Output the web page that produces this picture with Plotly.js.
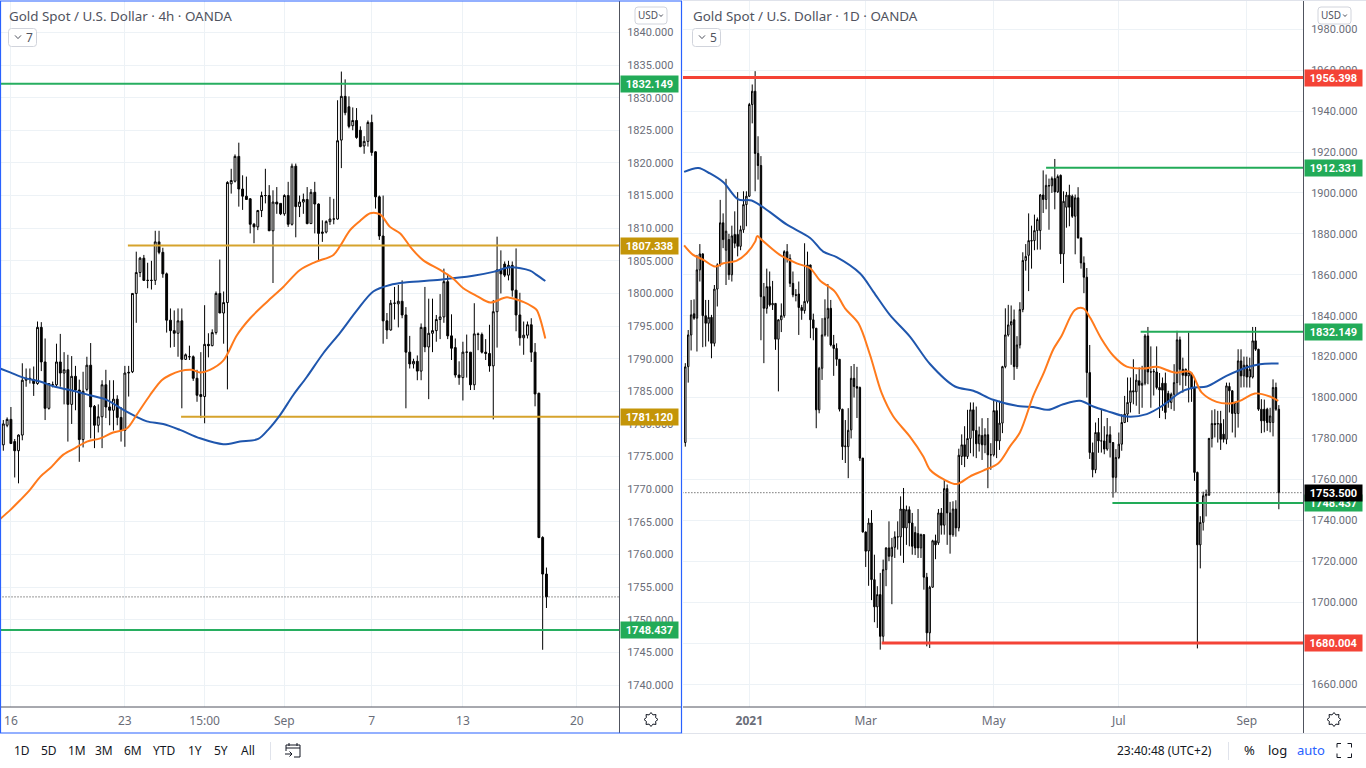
<!DOCTYPE html>
<html><head><meta charset="utf-8">
<script src="https://cdn.plot.ly/plotly-3.0.1.min.js"></script>
<style>html,body{margin:0;padding:0;background:#fff;overflow:hidden}#c{width:1366px;height:768px}</style>
</head><body><div id="c"></div>
<script>
// ---------- 4h chart values ----------
const h4Open=[1776.8,1779.8,1780.7,1777.3,1775.9,1778.3,1786.7,1787,1786.8,1786.2,
1794.8,1789.5,1782.4,1786,1786,1789.5,1787.8,1788.3,1783,1787.3,
1785.2,1777.6,1785.3,1789,1782.7,1779.8,1781.1,1786,1782.6,1782.1,
1783.8,1781,1779,1787.8,1788,1800,1803.2,1805.4,1802,1802,
1802,1807.9,1806.3,1803,1795.9,1794.3,1793.9,1795.8,1789.9,1790.3,
1790.3,1787,1784.5,1784.2,1792.2,1792,1794,1800,1797,1798.6,
1816.8,1817.2,1821,1816,1814.9,1814.5,1810.6,1810.2,1812.7,1815,
1815,1809.6,1814,1813.8,1812.2,1815,1810.6,1819.5,1813.3,1814,
1814.4,1810.7,1815.5,1813.7,1809.2,1809.4,1811,1811.4,1811.4,1823.5,
1830.2,1828.6,1825.7,1826.5,1825,1822.6,1823.3,1826.2,1821.7,1814.8,
1808.8,1795.8,1794.4,1798.5,1798.4,1798.8,1796.7,1791,1789.2,1789.6,
1788.1,1794.8,1791.8,1793.9,1794.3,1796,1796.4,1801.8,1793.5,1791.7,
1787.5,1787.1,1791,1791,1786,1793.8,1793.7,1791,1790.8,1788.9,
1797.2,1803.6,1804.5,1802.8,1804.3,1800.5,1796.7,1793.2,1793.6,1795.2,
1791,1784.7,1762.6,1757];
const h4High=[1780.6,1781,1782.6,1777.7,1778.4,1789.3,1788.5,1788.5,1788.8,1795.7,
1795.6,1793.1,1786.2,1786.5,1792.3,1793.8,1791,1790.6,1790.4,1788.9,
1786.8,1788,1790.3,1792.4,1782.9,1783,1786.7,1788.3,1786.7,1786.7,
1784.4,1782.6,1788.9,1788.9,1800,1806.4,1805.6,1805.9,1804.7,1805,
1809.6,1809.6,1807,1803.2,1797.7,1797.4,1797.7,1797.7,1790.8,1792,
1790.5,1788.3,1791,1798.2,1793.9,1794.5,1800.3,1805.2,1800.3,1817.2,
1819.1,1821.3,1823.1,1818.1,1817.9,1814.6,1810.8,1812.8,1815.6,1819.1,
1816.6,1815.8,1816.3,1813.8,1815.2,1817.1,1819.9,1819.9,1815,1815.3,
1816.3,1816,1817.1,1813.8,1811.2,1811.2,1814.8,1814.5,1829.6,1834,
1832.8,1830.2,1828.5,1828.4,1825.6,1824.1,1826.5,1827.4,1821.8,1815,
1815,1797,1799,1801,1801.3,1802,1797.9,1793.5,1790,1790.5,
1795.4,1801,1799.2,1799.2,1796.7,1799.9,1803.8,1803,1796.8,1793.1,
1789.6,1792.6,1793.7,1791,1798.5,1794,1794,1793,1795.2,1799,
1808.7,1806.6,1804.9,1805,1804.9,1806.9,1800.1,1795.7,1795.7,1796.2,
1792.4,1784.8,1762.8,1758];
const h4Low=[1775.9,1779.5,1777,1771.8,1770.9,1777.5,1785.7,1786.2,1784.3,1786,
1788.1,1780.6,1782.2,1785.6,1785.7,1785.7,1783,1777.3,1780,1782.1,
1774.2,1776.4,1785,1777.8,1776.3,1778.7,1776.3,1780.9,1779.8,1779,
1779.8,1777.3,1776.5,1784.2,1787.8,1795.5,1802.5,1802,1800.8,1800.6,
1801.3,1806,1802.4,1794,1791.7,1791.8,1790.3,1782.4,1789.8,1789.8,
1786.6,1783.4,1780.9,1780.1,1790.2,1791.9,1793.7,1797,1792.3,1785.3,
1815.3,1817,1813.3,1812.8,1814.4,1809.2,1807.7,1809.7,1811.7,1813.8,
1809.6,1801.6,1812.2,1812,1811.9,1810.2,1810.4,1808.6,1811.7,1812.2,
1810.6,1810.7,1809.2,1805,1807.9,1809.2,1810.5,1810.6,1811.3,1819.2,
1827.3,1825.3,1825,1823.7,1822.4,1821.4,1822.5,1821.1,1813,1808.2,
1792.3,1793,1794.3,1796,1794.8,1796.2,1782.4,1788.5,1788.5,1786.7,
1786.7,1791,1783.8,1791,1792.6,1793,1795.5,1793,1789.8,1787.1,
1786,1783.6,1787.1,1785.2,1785.2,1791.3,1790.8,1789.8,1788,1780.7,
1791.7,1800,1802.5,1802,1799.5,1794.2,1792,1790.6,1793.1,1789.5,
1782.7,1762.5,1745.4,1751.8];
const h4Close=[1780,1780.7,1777,1775.9,1778.3,1786.7,1787,1786.9,1786.2,1794.8,
1789.5,1782.4,1786.2,1786,1789.5,1787.8,1788.3,1783,1787.3,1785.2,
1777.6,1785,1789,1782.6,1779.8,1781.1,1786,1782.6,1782.1,1783.8,
1781,1779,1787.8,1787.9,1800,1803.2,1805.4,1802,1802,1802,
1807.9,1806.3,1803,1795.9,1794.3,1793.9,1795.8,1789.9,1790.6,1790.3,
1787,1784.4,1784.2,1792.2,1792,1794,1800,1797,1798.6,1817,
1817.3,1821,1816,1814.9,1814.4,1810.6,1810.2,1812.7,1815,1815,
1809.6,1814,1813.7,1812.2,1815,1810.6,1819.5,1813.3,1814,1814.4,
1810.7,1815.5,1813.7,1809.2,1809.4,1811,1811.4,1811.4,1823.4,1830.2,
1827.7,1825.6,1826.5,1823.9,1822.5,1823.3,1826.2,1821.6,1814.8,1808.8,
1795.8,1794.4,1798.5,1798.5,1798.8,1796.7,1791,1789.2,1789.6,1788.1,
1794.8,1791.8,1793.9,1794.3,1796,1796.4,1801.8,1793.5,1791.6,1787.5,
1787.1,1791,1791,1786,1793.8,1793.7,1791,1790.8,1788.9,1797.2,
1803.6,1803,1802.8,1804.3,1800.5,1796.7,1793.2,1793.6,1795.2,1791,
1784.6,1762.6,1757,1753.5];
const h4OrangeAt=[-0.9,1.8,4.4,7,9.7,12.3,15.8,18.9,22,25.5,28.9,32.5,35.1,38.6,41.7,43.9,46.5,49.6,51.8,54.4,57.9,61.5,65,69.4,73.7,78.1,82.1,86.9,88.7,91.3,93.9,96.6,99.2,101.8,104.5,107.5,110.5,115,118.4,121.1,124.7,128.2,132.6,136.9,139.5,140.5,142.7];
const h4Orange=[1765.4,1766.8,1768.3,1769.9,1771.9,1773.2,1775.3,1776.3,1777.3,1777.8,1778.7,1779.3,1781.4,1784.4,1786.7,1787.5,1788.1,1788.3,1787.9,1788.3,1789.7,1793.6,1796.2,1798.7,1801,1803.6,1804.8,1805.9,1807.3,1809.7,1811.1,1812.3,1812.1,1810.2,1809.2,1806.9,1805.1,1803.6,1802.3,1800.8,1799.6,1798.6,1799.4,1798.7,1797.9,1797.4,1793.1];
const h4BlueAt=[-0.9,1.8,5.3,9.7,13.6,17.6,22.8,27.2,31.5,35.1,37.8,42.1,46.5,51.8,57.9,62.3,67.1,69.7,72.9,76.3,79.9,84.2,88.7,93.1,97.4,101.8,106.2,115,123.7,129,133.4,138.7,140.5,142.7];
const h4Blue=[1788.5,1787.9,1787.1,1786.5,1785.7,1785.2,1784.4,1783.7,1782.2,1781.1,1780.4,1780,1779.1,1777.8,1776.9,1777.3,1777.7,1779.1,1781.4,1784.4,1787.2,1790.8,1794,1797.4,1800.3,1801.3,1801.7,1802.1,1802.7,1803.3,1804,1803.5,1802.8,1801.9];
const h4TickAt=[2,32,53,74,97,121,151];
const h4TickText=['16','23','15:00','Sep','7','13','20'];

// ---------- daily chart values ----------
const d1Open=[1778,1815.1,1830.6,1840.9,1838.8,1862.4,1870.2,1840,1836.3,1839.2,
1826.5,1853,1864.8,1885.4,1872,1877.2,1860,1879.7,1879.7,1873.9,
1882,1894.3,1898.4,1943.2,1949.7,1919.3,1913.4,1849.3,1843.6,1854.2,
1845.3,1846,1828.5,1838,1840,1871.3,1868,1855.8,1850.2,1850.6,
1844,1842.5,1847,1864.8,1838,1833.9,1794,1814.3,1830.6,1838.8,
1843.6,1825.7,1824,1818.7,1794.3,1776,1776,1784.2,1809.4,1805.4,
1804.9,1770.4,1734.3,1725,1738.7,1711,1697.7,1703.7,1683.3,1715.9,
1726.5,1722.4,1726.8,1731.9,1731.9,1745.5,1736.3,1745.2,1738.7,1734,
1733.5,1726.5,1733,1712.2,1685,1707.3,1730,1729,1743.6,1737.6,
1755.5,1743.6,1733,1745.5,1736.3,1771.2,1776.9,1771.2,1780,1794,
1783.9,1777.4,1781.4,1776.9,1781.8,1772,1772,1793.6,1778.8,1787.5,
1815.1,1830.6,1835.5,1838,1815.1,1825.7,1843,1867,1869.5,1876.7,
1876.7,1881.6,1881.6,1899,1896.8,1903.5,1903.5,1907,1900.5,1908.6,
1870.2,1893,1898.9,1898.4,1888.6,1897.6,1878,1865.8,1858.8,1812.2,
1773.1,1764.7,1782.9,1778.8,1778.8,1774.8,1781.8,1778,1761,1770.7,
1777.2,1787.8,1791.9,1797.6,1803.3,1802.8,1808.2,1806,1807,1830.1,
1812.5,1812.5,1812.5,1804.9,1807,1807,1802,1797.6,1801.6,1807.3,
1828.2,1813.8,1813.8,1810.6,1811.9,1804.9,1763.4,1728,1739,1752,
1752.3,1780,1787.3,1787,1787.3,1782.1,1779.6,1805.4,1803.3,1792.2,
1792.2,1817.9,1810.6,1815.8,1810,1810,1827.7,1823.6,1794.3,1794.3,
1794.3,1787.8,1787.8,1804.9,1794.3];
const d1High=[1816.8,1833,1847.7,1848,1869.7,1875,1870.5,1847.7,1847.7,1840.4,
1855,1865.6,1896.6,1890,1906.9,1880,1884,1891,1900.4,1884,
1900.8,1900.8,1944,1953,1959.5,1927.7,1918,1856,1863,1861.6,
1857,1846.2,1838.2,1846,1872,1875,1870,1861.6,1853,1856.7,
1845.3,1875.4,1871.3,1864.9,1841,1834,1815,1838.8,1848,1855.5,
1847.7,1830.6,1826.5,1818.7,1794.5,1789,1794.8,1815.4,1816.4,1815,
1805.4,1770.5,1734.5,1741,1745,1723.2,1707.8,1714.3,1720.8,1726.8,
1739.5,1731.4,1734.6,1739.5,1751.7,1755.8,1747.2,1746.8,1743.6,1737,
1745.5,1733.5,1733.2,1714.3,1708,1730.5,1733,1745.5,1746,1760,
1757.5,1749,1749.3,1749.8,1775,1782,1786,1794,1797.6,1797.6,
1795.6,1785.8,1789.9,1785,1790,1777.7,1798.9,1798,1798.4,1815.5,
1843.6,1845.3,1845,1843,1830,1846.6,1871,1875,1890,1884,
1889.4,1888,1899.5,1911,1909,1907,1908,1916.6,1909,1909,
1900.8,1900.5,1904,1899.2,1899.2,1902.8,1878.2,1869,1863.3,1825.7,
1778,1787.8,1790,1794.3,1786,1790,1786,1778.2,1774.8,1782.9,
1791.9,1800.8,1809.8,1809.8,1818.7,1811.4,1814.7,1815.5,1831,1834.5,
1825,1814,1825,1812,1809.8,1812.2,1803.3,1802.4,1816.3,1832.6,
1829.8,1819.5,1814.2,1831.8,1812.5,1809,1763.8,1742,1754,1755,
1780.3,1793.8,1794.3,1793.5,1793.5,1789.4,1807.3,1807.3,1803.5,1798,
1823.6,1823.6,1820,1820,1819.5,1834.5,1834.5,1823.8,1799.2,1799,
1795,1795,1808.9,1807.3,1796.3];
const d1Low=[1776,1807.3,1823,1838,1822.5,1856.7,1824.6,1824.9,1827.4,1819.2,
1825,1844.5,1864,1873,1855,1857.5,1856.7,1873,1869,1872,
1880.5,1883.7,1898,1934,1900.8,1906.5,1828,1816.8,1841,1844.5,
1842.8,1823.3,1803,1832,1839,1866,1854,1849,1847,1830.6,
1838,1841,1846,1829,1828,1785,1792.3,1808.6,1829.8,1829.8,
1825,1810.6,1815.5,1793.2,1769.5,1768,1760.6,1780,1800,1790,
1769,1734,1717.2,1708,1701,1690.2,1687.4,1676.8,1680.1,1707.8,
1720,1699,1721.6,1725.7,1722.7,1719.2,1728,1727.3,1723.2,1723,
1721.6,1721.6,1706.1,1678.4,1677.6,1707,1721,1728,1733,1733,
1728,1723.7,1732,1732,1734.6,1767,1766,1770,1772.8,1771.2,
1770.4,1773.6,1769.5,1772.8,1755.7,1764.7,1771.2,1770.4,1774.4,1782.6,
1814.3,1829.8,1816,1808.6,1814,1824,1841.7,1862,1852,1863,
1872,1872.3,1872.3,1890.2,1892,1882,1900,1892,1900,1865.3,
1856,1883,1883.7,1887.8,1870,1877.7,1863,1851,1800,1770,
1761,1763,1773,1773.1,1772.3,1774,1770.7,1751.1,1753.6,1769.9,
1774,1787.5,1788,1792.7,1796.7,1796,1791.9,1795,1806,1806.5,
1795,1801,1804,1790,1793.5,1789.4,1795,1794.3,1793.5,1801.5,
1806,1802.4,1805.7,1797.6,1797.9,1759.3,1677.4,1716.5,1735,1741.9,
1752,1775.6,1780.5,1778,1774.4,1778,1777.2,1792.7,1782.9,1780.5,
1785.3,1804.9,1805,1804.9,1804.9,1809.3,1822.8,1793.5,1782.6,1783,
1783.7,1783,1781,1793.5,1745.4];
const d1Close=[1815,1830.6,1840.4,1838.8,1862.4,1870.2,1840,1836.3,1839.2,1826.5,
1853,1864.8,1885.4,1877.2,1881.3,1860,1879,1875.4,1873.9,1882,
1894.3,1898.4,1943.2,1949.7,1919.3,1913.4,1849.3,1843.6,1854.2,1845.3,
1846,1828.5,1838,1840,1871.3,1868,1855.8,1850.2,1850,1844,
1842.5,1847,1864.8,1838,1833.9,1794,1814.3,1830.6,1838.8,1843.6,
1825.7,1824,1818.7,1794.3,1776,1776.3,1784,1809.4,1805.4,1804.6,
1770.4,1734.3,1724.9,1738.7,1711,1697.7,1703.7,1683.3,1715.9,1726.5,
1722.4,1726.8,1731.9,1731.9,1745.5,1736.3,1745.2,1738.7,1727.3,1726.5,
1726.5,1733,1712.2,1685,1707.3,1730,1728,1743.6,1737.6,1755.5,
1743.6,1733,1745.5,1736.3,1771.8,1776.9,1771.2,1780,1794,1783.9,
1777.4,1781.8,1776.9,1781.8,1772,1772,1793.6,1778.8,1787.5,1815.1,
1830.6,1835.5,1837.1,1815.1,1825.7,1843,1867,1869,1876.7,1876.5,
1881.6,1887,1899,1896.8,1903.7,1903.5,1907,1900.5,1908,1870.2,
1895.9,1898.9,1893,1888.6,1897.6,1878,1865.8,1858.8,1812.2,1773.1,
1764.7,1782.9,1778.8,1778.8,1774.8,1781.8,1778,1761,1770.7,1777.2,
1787.8,1791.9,1797.6,1803.3,1802.8,1808.5,1806,1807,1830.1,1812.5,
1812.5,1812.8,1804.9,1803.7,1803.6,1792.7,1797.6,1801.6,1807.3,1828.2,
1813.8,1810.9,1810.6,1812.2,1804.4,1763.4,1728,1739,1752,1752.7,
1780,1787.3,1786.8,1787.3,1779.6,1779.6,1805.7,1803.3,1792.2,1797.6,
1817.9,1810.6,1815.8,1810,1813.8,1827.7,1823.6,1794.3,1788.6,1788.6,
1787.8,1791,1804.9,1794.3,1753.5];
const d1BlueAt=[-0.4,4.5,8.5,13.1,18.2,22.8,29.1,34.8,42.9,47.4,52,60,64.6,70.3,77.2,84.1,92.7,99,105.8,115,119.6,124.7,129.9,135.6,140.2,144.8,151.7,158.6,164.3,170,174.6,179.2,186,192.9,197.5,203.9];
const d1Blue=[1910.3,1912.2,1909.5,1905.2,1896.8,1896.3,1890.6,1884.6,1878,1871.3,1868.6,1860.7,1851.8,1840.4,1829.8,1816.4,1805.4,1803.3,1798.9,1795.7,1795.4,1794,1796.7,1798.4,1795.6,1793.5,1790.7,1791.9,1796.3,1802.4,1804.9,1805.4,1810.6,1814.7,1816.3,1816.6];
const d1OrangeAt=[-0.4,2.7,6.2,10.2,13.1,17.7,21.1,24,24.7,26.3,32.5,38.3,42.9,46.3,51.4,54.9,59.5,63.5,67.5,71.5,77.2,81.8,84.1,88.7,93.3,97.8,102.4,107.6,111.6,115,119.6,123,126.5,129.3,133.9,136.8,139.1,143.1,147.1,151.7,157.4,162,168.3,173.5,177.5,182.6,187.2,190.6,195.8,200.9,203.8];
const d1Orange=[1874.4,1869.7,1867.3,1864,1865.6,1866.9,1870.5,1876.2,1878.9,1877,1869.7,1865.6,1863.2,1857.2,1851.8,1843.6,1836.3,1820.8,1802.1,1790.7,1780.9,1771.2,1764.7,1760.1,1757.7,1761.4,1764.3,1767.9,1776.1,1782.9,1800.8,1811.4,1823.6,1830.1,1842.8,1843.6,1839.1,1828.5,1820.4,1815.1,1814.2,1815,1812.2,1812.5,1802.4,1797.9,1797.1,1798.4,1802,1800.5,1798.4];
const d1TickAt=[22,62,106,149,193];
const d1TickText=['<b>2021</b>','Mar','May','Jul','Sep'];

// ---------- level lines: value, first candle position, colour, width ----------
const h4Levels=[[1832.149,-1,'#27ae60',2],[1807.338,32.8,'#d6a32c',2],[1781.120,46.8,'#d6a32c',2],[1748.437,-1,'#27ae60',2]];
const d1Levels=[[1956.398,-1,'#f44336',3],[1912.331,124,'#22ab58',2],[1832.149,156.5,'#22ab58',2],[1748.437,146.8,'#22ab58',2],[1680.004,67.5,'#f44336',3]];
const lastPrice=1753.5;
const h4XEnd=162.1, d1XEnd=212.3;

const GRID='#edf2f6', AXIS='#50535e', TXT='#6a6d78', ORANGE='#ff7a1c', BLUE='#1f56ad';
const range=n=>Array.from({length:n},(_,i)=>i);

function candle(o,h,l,c,xa,ya){return {type:'candlestick',x:range(o.length),open:o,high:h,low:l,close:c,xaxis:xa,yaxis:ya,
  increasing:{line:{color:'#000',width:1},fillcolor:'#fff'},decreasing:{line:{color:'#000',width:1},fillcolor:'#000'},
  whiskerwidth:0,hoverinfo:'skip',showlegend:false};}
function line(x,y,color,width,xa,ya,dash){return {type:'scatter',mode:'lines',x,y,xaxis:xa,yaxis:ya,line:{color,width,dash:dash||'solid'},hoverinfo:'skip',showlegend:false};}
function ma(x,y,color,xa,ya){return {type:'scatter',mode:'lines',x,y,xaxis:xa,yaxis:ya,line:{color,width:2,shape:'spline',smoothing:0.9},hoverinfo:'skip',showlegend:false};}

const traces=[candle(h4Open,h4High,h4Low,h4Close,'x','y'),candle(d1Open,d1High,d1Low,d1Close,'x2','y2')];
traces.push(line([-1,h4XEnd],[lastPrice,lastPrice],'#333',1,'x','y','1px,2px'));
traces.push(line([-1,d1XEnd],[lastPrice,lastPrice],'#333',1,'x2','y2','1px,2px'));
h4Levels.forEach(v=>traces.push(line([v[1],h4XEnd],[v[0],v[0]],v[2],v[3],'x','y')));
d1Levels.forEach(v=>traces.push(line([v[1],d1XEnd],[v[0],v[0]],v[2],v[3],'x2','y2')));
traces.push(ma(h4BlueAt,h4Blue,BLUE,'x','y'));
traces.push(ma(h4OrangeAt,h4Orange,ORANGE,'x','y'));
traces.push(ma(d1BlueAt,d1Blue,BLUE,'x2','y2'));
traces.push(ma(d1OrangeAt,d1Orange,ORANGE,'x2','y2'));

const W=1366,H=768, px=x=>x/W, py=y=>1-y/H;
const FONT='"Noto Sans", "Open Sans", sans-serif';
function label(x,y,text,o){o=o||{};return {xref:'paper',yref:'paper',x:px(x),y:py(y),text,showarrow:false,xanchor:o.a||'center',yanchor:'middle',
  font:{family:o.f||FONT,size:o.s||12,color:o.c||'#131722'},borderpad:0};}
function tag(xl,value,yref,text,bg){return {xref:'paper',yref,x:px(xl),y:value,text:'<b>'+text+'</b>',showarrow:false,xanchor:'left',yanchor:'middle',
  width:57,height:16,align:'center',bgcolor:bg,borderpad:0,font:{family:'Roboto, sans-serif',size:11,color:'#fff'}};}
const ann=[
 label(8,16,'Gold Spot / U.S. Dollar · 4h · OANDA',{a:'left',s:13.4,c:'#50535e'}),
 label(692,16,'Gold Spot / U.S. Dollar · 1D · OANDA',{a:'left',s:13.4,c:'#50535e'}),
 label(29,37,'7',{s:12,c:'#50535e'}), label(713,37,'5',{s:12,c:'#50535e'}),
 label(648,15,'USD',{s:10,c:'#50535e'}), label(1331,15,'USD',{s:10,c:'#50535e'}),
 tag(620,1832.149,'y','1832.149','#22ab58'),tag(620,1807.338,'y','1807.338','#c49508'),tag(620,1781.120,'y','1781.120','#c49508'),tag(620,1748.437,'y','1748.437','#22ab58'),
 tag(1304,1956.398,'y2','1956.398','#f44336'),tag(1304,1912.331,'y2','1912.331','#22ab58'),tag(1304,1832.149,'y2','1832.149','#22ab58'),tag(1304,1748.437,'y2','1748.437','#22ab58'),
 tag(1304,1680.004,'y2','1680.004','#f44336'),tag(1304,lastPrice,'y2','1753.500','#000'),
 label(22,750,'1D'),label(49,750,'5D'),label(77,750,'1M'),label(104,750,'3M'),label(132.6,750,'6M'),label(164,750,'YTD'),label(195,750,'1Y'),label(221,750,'5Y'),label(248,750,'All'),
 label(1164,750,'23:40:48 (UTC+2)'),label(1249,750,'%',{s:13}),label(1277,750,'log',{s:13}),label(1311,750,'auto',{s:13,c:'#2962ff'})
];

function seg(x0,y0,x1,y1,color,width){return {type:'line',xref:'paper',yref:'paper',x0:px(x0),y0:py(y0),x1:px(x1),y1:py(y1),line:{color,width:width||1},layer:'above'};}
function path(d,color,width,fill){return {type:'path',xref:'paper',yref:'paper',path:d,line:{color,width:width||1},fillcolor:fill||'rgba(0,0,0,0)',layer:'above'};}
function P(x,y){return px(x)+','+py(y);}
function rbox(x0,y0,x1,y1,r){return 'M'+P(x0+r,y0)+' L'+P(x1-r,y0)+' Q'+P(x1,y0)+' '+P(x1,y0+r)+' L'+P(x1,y1-r)+' Q'+P(x1,y1)+' '+P(x1-r,y1)+' L'+P(x0+r,y1)+' Q'+P(x0,y1)+' '+P(x0,y1-r)+' L'+P(x0,y0+r)+' Q'+P(x0,y0)+' '+P(x0+r,y0)+' Z';}
function chev(x,y,w,h){return 'M'+P(x-w,y-h)+' L'+P(x,y+h)+' L'+P(x+w,y-h);}
function gear(x,y){let d='';for(let a=0;a<16;a++){const t=a*Math.PI/8,r=a%2?5:7;d+=(a?' L':'M')+P(x+r*Math.cos(t),y+r*Math.sin(t));}return d+' Z';}
function corner(x,y,dx,dy){return 'M'+P(x+dx*4,y)+' L'+P(x,y)+' L'+P(x,y+dy*4);}
const shapes=[
 seg(1,707,681,707,AXIS),seg(683,707,1366,707,AXIS),seg(619.5,1,619.5,733,AXIS),seg(1303.5,1,1303.5,733,AXIS),
 seg(683,0.5,1366,0.5,'#e0e3eb'),seg(682,733.5,1366,733.5,'#e0e3eb'),
 {type:'rect',xref:'paper',yref:'paper',x0:px(0.5),y0:py(1),x1:px(681.5),y1:py(733),line:{color:'#2962ff',width:1.2},layer:'above'},
 path(rbox(8.5,28.5,36.5,46.5,3),'#d1d4dc',1,'#fff'),path(rbox(692.5,28.5,720.5,46.5,3),'#d1d4dc',1,'#fff'),
 path(chev(18,37,3,1.6),'#50535e',1),path(chev(702,37,3,1.6),'#50535e',1),
 path(rbox(635,7,667,24,3),'#d1d4dc',1,'#fff'),path(rbox(1318,7,1351,24,3),'#d1d4dc',1,'#fff'),
 path(chev(661,15.5,1.8,1),'#50535e',1),path(chev(1345,15.5,1.8,1),'#50535e',1),
 path(gear(651,719.5),'#131722',1),path(gear(1334,719.5),'#131722',1),
 seg(270.5,742,270.5,760,'#e0e3eb'),seg(1228.5,742,1228.5,760,'#e0e3eb'),
 path('M'+P(294,757)+' L'+P(300,757)+' L'+P(300,745)+' L'+P(286,745)+' L'+P(286,751),'#131722',1),
 seg(286,748,300,748,'#131722'),seg(289,743,289,746,'#131722'),seg(297,743,297,746,'#131722'),
 path('M'+P(285,754)+' L'+P(292,754)+' M'+P(289.5,751.5)+' L'+P(292,754)+' L'+P(289.5,756.5),'#131722',1),
 path(corner(1337,743.5,1,1),'#131722',1),path(corner(1351.5,743.5,-1,1),'#131722',1),path(corner(1337,757.5,1,-1),'#131722',1),path(corner(1351.5,757.5,-1,-1),'#131722',1)
];

function xAxis(dom,rng,vals,text,anchor){return {domain:dom,range:rng,type:'linear',anchor,tickmode:'array',tickvals:vals,ticktext:text,showgrid:true,gridcolor:GRID,gridwidth:1,zeroline:false,showline:false,
  ticks:'outside',ticklen:3,tickcolor:'rgba(0,0,0,0)',tickfont:{family:FONT,size:12,color:TXT},rangeslider:{visible:false},fixedrange:true};}
function yAxis(rng,dtick,anchor,start){return {domain:[1-707/H,1-1/H],range:rng,type:'linear',side:'right',anchor,dtick,tick0:start,tickformat:'.3f',showgrid:true,gridcolor:GRID,gridwidth:1,zeroline:false,showline:false,
  ticks:'outside',ticklen:5,tickcolor:'rgba(0,0,0,0)',tickfont:{family:'Roboto, sans-serif',size:11,color:TXT},fixedrange:true};}

const layout={width:W,height:H,margin:{l:0,r:0,t:0,b:0},paper_bgcolor:'#fff',plot_bgcolor:'#fff',showlegend:false,hovermode:false,
 xaxis:xAxis([1/W,619/W],[-0.61,h4XEnd],h4TickAt,h4TickText,'y'),
 xaxis2:xAxis([683/W,1303/W],[-0.79,d1XEnd],d1TickAt,d1TickText,'y2'),
 yaxis:yAxis([1736.63,1844.81],5,'x',1740),
 yaxis2:yAxis([1648.76,1993.8],20,'x2',1660),
 annotations:ann,shapes};
Plotly.newPlot('c',traces,layout,{displayModeBar:false,staticPlot:true});
</script></body></html>
